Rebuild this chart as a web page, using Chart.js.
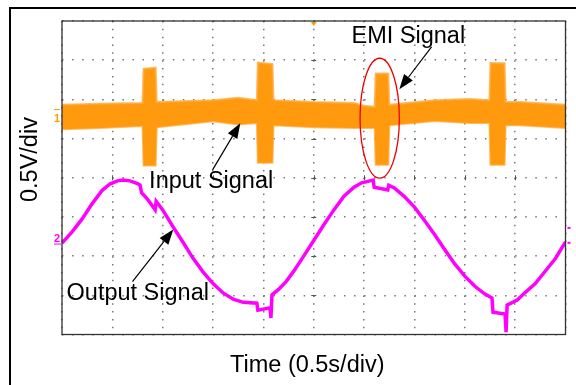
<!DOCTYPE html>
<html>
<head>
<meta charset="utf-8">
<script src="https://cdn.jsdelivr.net/npm/chart.js@4.4.0/dist/chart.umd.min.js"></script>
<style>
  html, body { margin: 0; padding: 0; background: #fff; }
  canvas { display: block; }
</style>
</head>
<body>
<canvas id="scope" width="576" height="385"></canvas>
<script>
// Both axes are in screen divisions: 10 div of time (0.5 s/div), 8 div of voltage (0.5 V/div)

// Input signal (channel 1) drawn as a band between its upper and lower envelope
const inputX      = [0, 0.75, 1.60, 1.62, 1.86, 1.88, 3.0, 3.5, 3.87, 3.89, 4.18, 4.20, 5.0, 5.8, 6.0, 6.21, 6.23, 6.48, 6.50, 7.4, 8.1, 8.49, 8.51, 8.79, 8.81, 9.1, 10];
const inputTop    = [5.86, 5.89, 5.91, 6.78, 6.81, 5.93, 5.98, 6.04, 5.98, 6.94, 6.90, 5.98, 5.93, 5.91, 5.84, 5.81, 6.66, 6.66, 5.86, 5.98, 6.01, 5.98, 6.93, 6.92, 5.93, 5.93, 5.86];
const inputBottom = [5.24, 5.27, 5.32, 4.31, 4.31, 5.29, 5.44, 5.36, 5.40, 4.38, 4.38, 5.34, 5.29, 5.27, 5.27, 5.27, 4.33, 4.33, 5.34, 5.45, 5.40, 5.40, 4.33, 4.33, 5.34, 5.34, 5.27];

// Output signal (channel 2)
const outputX = [0, 0.2, 0.4, 0.6, 0.8, 0.95, 1.1, 1.21, 1.35, 1.50, 1.55, 1.58, 1.70, 1.85, 1.87,
                 2.0, 2.2, 2.4, 2.6, 2.8, 3.0, 3.2, 3.4, 3.6, 3.87, 3.89, 4.13, 4.15, 4.17,
                 4.3, 4.45, 4.6, 4.8, 5.0, 5.2, 5.4, 5.6, 5.8, 5.95, 6.18, 6.20, 6.47, 6.49,
                 6.6, 6.8, 7.0, 7.2, 7.4, 7.6, 7.8, 8.0, 8.2, 8.4, 8.54, 8.56, 8.80, 8.82, 8.84,
                 9.04, 9.2, 9.4, 9.6, 9.8, 10];
const outputY = [2.33, 2.62, 2.95, 3.34, 3.68, 3.84, 3.92, 3.94, 3.92, 3.85, 3.81, 3.62, 3.45, 3.18, 3.40,
                 3.18, 2.76, 2.36, 1.95, 1.60, 1.30, 1.06, 0.90, 0.82, 0.80, 0.62, 0.68, 0.42, 1.01,
                 1.15, 1.35, 1.61, 2.00, 2.40, 2.80, 3.18, 3.53, 3.76, 3.87, 3.94, 3.76, 3.69, 3.81,
                 3.74, 3.52, 3.25, 2.91, 2.55, 2.17, 1.80, 1.49, 1.23, 1.03, 0.93, 0.57, 0.52, 0.06, 0.75,
                 0.88, 1.07, 1.30, 1.62, 1.94, 2.36];

const timeDivs = 10;
const voltDivs = 8;

const FONT = "'Liberation Sans', Arial, sans-serif";
const ORANGE = '#ff9a0e';
const MAGENTA = '#ff00ff';

const toPoints = (xs, ys) => xs.map((x, i) => ({ x: x, y: ys[i] }));

function arrow(ctx, x1, y1, x2, y2) {
    const a = Math.atan2(y2 - y1, x2 - x1);
    const len = 15, w = 5.5;
    const bx = x2 - len * Math.cos(a), by = y2 - len * Math.sin(a);
    ctx.beginPath();
    ctx.moveTo(x1, y1);
    ctx.lineTo(bx, by);
    ctx.stroke();
    ctx.beginPath();
    ctx.moveTo(x2, y2);
    ctx.lineTo(bx + w * Math.sin(a), by - w * Math.cos(a));
    ctx.lineTo(bx - w * Math.sin(a), by + w * Math.cos(a));
    ctx.closePath();
    ctx.fill();
}

// Scope frame, centre ticks, channel markers and the annotations
const scopeDecor = {
    id: 'scopeDecor',
    beforeDraw(chart) {
        const ctx = chart.ctx;
        ctx.save();
        ctx.fillStyle = '#fff';
        ctx.fillRect(0, 0, chart.width, chart.height);
        ctx.restore();
    },
    afterDraw(chart) {
        const ctx = chart.ctx;
        const area = chart.chartArea;
        const sx = chart.scales.x, sy = chart.scales.y;
        const px = v => sx.getPixelForValue(v);
        const py = v => sy.getPixelForValue(v);
        ctx.save();

        // outer figure frame (left and top only)
        ctx.fillStyle = '#000';
        ctx.fillRect(9, 7, 2, chart.height - 7);
        ctx.fillRect(9, 7, chart.width - 9, 2);

        // plot frame
        ctx.strokeStyle = '#333';
        ctx.lineWidth = 1.3;
        ctx.strokeRect(area.left, area.top, area.right - area.left, area.bottom - area.top);

        // small ticks on the centre graticule lines
        ctx.strokeStyle = '#555';
        ctx.lineWidth = 1;
        const cx = px(timeDivs / 2), cy = py(voltDivs / 2);
        for (let i = 1; i < timeDivs; i++) {
            ctx.beginPath();
            ctx.moveTo(Math.round(px(i)) + 0.5, cy - 2.5);
            ctx.lineTo(Math.round(px(i)) + 0.5, cy + 2.5);
            ctx.stroke();
        }
        for (let j = 1; j < voltDivs; j++) {
            ctx.beginPath();
            ctx.moveTo(cx - 2.5, Math.round(py(j)) + 0.5);
            ctx.lineTo(cx + 2.5, Math.round(py(j)) + 0.5);
            ctx.stroke();
        }

        // channel markers
        ctx.font = 'bold 11px ' + FONT;
        ctx.textBaseline = 'alphabetic';
        ctx.fillStyle = ORANGE;
        ctx.fillText('1', area.left - 8, py(5.55) + 5);
        ctx.fillRect(area.left - 8, py(5.55) - 8, 6, 1);
        ctx.fillStyle = MAGENTA;
        ctx.fillText('2', area.left - 8, py(2.50) + 5);
        ctx.fillRect(area.left - 8, py(2.50) + 7, 7, 1);
        ctx.fillRect(area.right + 2, py(2.72) - 1, 3, 2);
        ctx.fillRect(area.right + 2, py(2.34) - 1, 3, 2);

        // trigger position marker
        ctx.fillStyle = ORANGE;
        ctx.beginPath();
        ctx.moveTo(cx - 3, area.top + 1);
        ctx.lineTo(cx + 3, area.top + 1);
        ctx.lineTo(cx, area.top + 5);
        ctx.closePath();
        ctx.fill();

        // EMI ellipse
        ctx.strokeStyle = '#ee0000';
        ctx.lineWidth = 1.3;
        ctx.beginPath();
        ctx.ellipse(px(6.31), py(5.52), px(6.31 + 0.39) - px(6.31), py(5.52) - py(5.52 + 1.53), 0, 0, Math.PI * 2);
        ctx.stroke();

        // labels and arrows
        ctx.fillStyle = '#000';
        ctx.strokeStyle = '#000';
        ctx.lineWidth = 1.2;
        ctx.font = '23.5px ' + FONT;
        ctx.textAlign = 'left';
        ctx.fillText('EMI Signal', px(5.75), py(7.43));
        ctx.fillText('Input Signal', px(1.73), py(3.73));
        ctx.fillText('Output Signal', px(0.09), py(0.88));
        arrow(ctx, px(7.34), py(7.34), px(6.70), py(6.26));
        arrow(ctx, px(2.99), py(4.20), px(3.54), py(5.39));
        arrow(ctx, px(1.40), py(1.35), px(2.21), py(2.68));

        // axis titles
        ctx.fillText('Time (0.5s/div)', 230, 371.5);
        ctx.save();
        ctx.translate(37, 202);
        ctx.rotate(-Math.PI / 2);
        ctx.fillText('0.5V/div', 0, 0);
        ctx.restore();

        ctx.restore();
    }
};

const ctx = document.getElementById('scope').getContext('2d');
new Chart(ctx, {
    type: 'line',
    data: {
        datasets: [
            {
                label: 'Input Signal (upper)',
                data: toPoints(inputX, inputTop),
                borderColor: 'rgba(255, 170, 60, 0.8)',
                backgroundColor: ORANGE,
                borderWidth: 2,
                pointRadius: 0,
                tension: 0,
                fill: '+1'
            },
            {
                label: 'Input Signal (lower)',
                data: toPoints(inputX, inputBottom),
                borderColor: 'rgba(255, 170, 60, 0.8)',
                borderWidth: 2,
                pointRadius: 0,
                tension: 0,
                fill: false
            },
            {
                label: 'Output Signal',
                data: toPoints(outputX, outputY),
                borderColor: MAGENTA,
                borderWidth: 3.5,
                pointRadius: 0,
                tension: 0,
                fill: false
            }
        ]
    },
    options: {
        responsive: false,
        devicePixelRatio: 1,
        animation: false,
        layout: {
            padding: { left: 62, top: 21, right: 10.5, bottom: 50.5 }
        },
        plugins: {
            legend: { display: false },
            tooltip: { enabled: false }
        },
        scales: {
            x: {
                type: 'linear',
                min: 0,
                max: timeDivs,
                ticks: { display: false, stepSize: 1 },
                grid: { color: '#777', lineWidth: 1.5, drawTicks: false },
                border: { display: false, dash: [1.5, 6.34] }
            },
            y: {
                type: 'linear',
                min: 0,
                max: voltDivs,
                ticks: { display: false, stepSize: 1 },
                grid: { color: '#777', lineWidth: 1.5, drawTicks: false },
                border: { display: false, dash: [1.5, 8.57] }
            }
        }
    },
    plugins: [scopeDecor]
});
</script>
</body>
</html>
